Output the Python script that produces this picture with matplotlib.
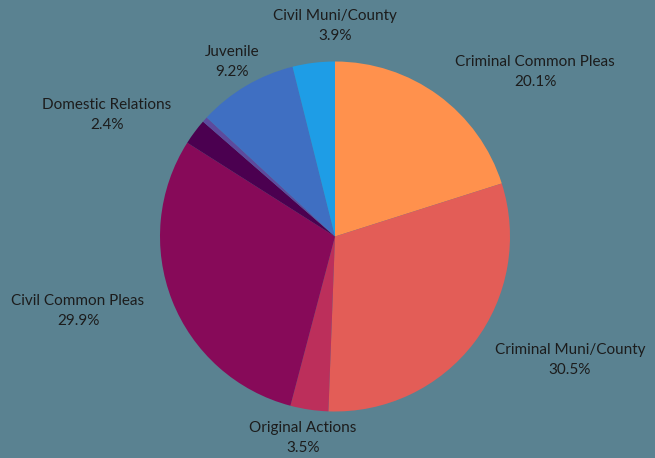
import matplotlib
matplotlib.use("Agg")
import matplotlib.pyplot as plt

categories = ["Criminal Common Pleas", "Criminal Muni/County", "Original Actions",
              "Civil Common Pleas", "Domestic Relations", "Other", "Juvenile",
              "Civil Muni/County"]
shares = [20.1, 30.5, 3.5, 29.9, 2.4, 0.5, 9.2, 3.9]
show_label = [True, True, True, True, True, False, True, True]

colors = ["#FF914D", "#E35D57", "#BC2F5B", "#870A59", "#4B0050", "#5C4A9E",
          "#3F6FC2", "#1E9DE6"]
# label centers in pixel coords (x, y from top)
label_pos = [(535, 72), (570, 360), (303, 438), (78, 311), (107, 115), None,
             (232, 62), (335, 26)]

W, H = 655, 458
bg = "#5A8291"
fig = plt.figure(figsize=(W / 100, H / 100), dpi=100, facecolor=bg)
ax = fig.add_axes([0, 0, 1, 1])
ax.set_facecolor(bg)

cx, cy, r = 335, H - 236.5, 175
ax.pie(shares, colors=colors, startangle=90, counterclock=False,
       center=(cx, cy), radius=r, frame=True,
       wedgeprops=dict(linewidth=0))
ax.set_xlim(0, W)
ax.set_ylim(0, H)
ax.set_aspect("equal")
ax.axis("off")

for name, val, show, pos in zip(categories, shares, show_label, label_pos):
    if not show:
        continue
    x, y = pos
    ax.text(x, H - y, f"{name}\n{val:.1f}%", ha="center", va="center",
            fontsize=11, family="Lato", color="#1c1c1c", linespacing=1.5)

fig.savefig("out.png", dpi=100, facecolor=bg)
